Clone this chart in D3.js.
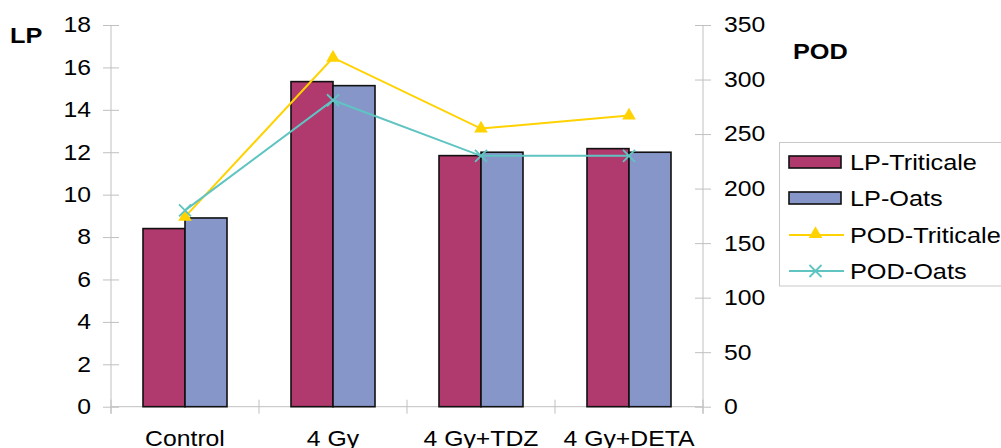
<!DOCTYPE html>
<html><head><meta charset="utf-8">
<script src="https://cdn.jsdelivr.net/npm/d3@7"></script>
<style>
body{margin:0;background:#fff;}
svg{display:block;font-family:"Liberation Sans",Arial,sans-serif;}
</style></head>
<body>
<svg id="c" width="1001" height="448"></svg>
<script>
const categories = ["Control", "4 Gy", "4 Gy+TDZ", "4 Gy+DETA"];
const lpTriticale = [8.4, 15.33, 11.84, 12.17];
const lpOats = [8.9, 15.14, 12.0, 12.0];
const podTriticale = [174, 320, 255, 267];
const podOats = [180, 281, 230, 230];
const lpTicks = [0, 2, 4, 6, 8, 10, 12, 14, 16, 18];
const podTicks = [0, 50, 100, 150, 200, 250, 300, 350];
const seriesNames = ["LP-Triticale", "LP-Oats", "POD-Triticale", "POD-Oats"];

const colors = {maroon:"#b0396d", blue:"#8696c9", yellow:"#ffd200", teal:"#5fc4c2"};
const SX = 1.15;

const svg = d3.select("#c");
const L = 111, R = 703, T = 25, B = 406.7;

const x = d3.scaleBand().domain(categories).range([L, R]).padding(0);
const xi = d3.scaleBand().domain(["t","o"]).range([0, x.bandwidth()]).paddingOuter(0.762).paddingInner(0);
const yL = d3.scaleLinear().domain([0, 18]).range([B, T]);
const yR = d3.scaleLinear().domain([0, 350]).range([B, T]);

function styleAxis(g){
  g.select(".domain").attr("stroke","#c0c0c0");
  g.selectAll(".tick line").attr("stroke","#c0c0c0");
}

// Left axis (crossing ticks)
const gl = svg.append("g").attr("transform",`translate(${L},0)`);
gl.call(d3.axisLeft(yL).tickValues(lpTicks).tickSize(8).tickPadding(12).tickSizeOuter(0));
gl.call(g=>{
  g.selectAll(".tick").append("line").attr("x1",0).attr("x2",8).attr("stroke","#c0c0c0");
  g.selectAll(".tick text").attr("font-size",21.5).attr("fill","#000")
   .attr("transform",`translate(-20,0) scale(${SX},1)`).attr("x",0);
  g.select(".domain").attr("d",`M0,${T}V${B+7}`);
  styleAxis(g);
});

// Right axis
const gr = svg.append("g").attr("transform",`translate(${R},0)`);
gr.call(d3.axisRight(yR).tickValues(podTicks).tickSize(8).tickPadding(12).tickSizeOuter(0));
gr.call(g=>{
  g.selectAll(".tick").append("line").attr("x1",0).attr("x2",-8).attr("stroke","#c0c0c0");
  g.selectAll(".tick text").attr("font-size",21.5).attr("fill","#000")
   .attr("transform",`translate(21,0) scale(${SX},1)`).attr("x",0);
  g.select(".domain").attr("d",`M0,${T}V${B+7}`);
  styleAxis(g);
});

// Bottom axis
const gb = svg.append("g").attr("transform",`translate(0,${B})`);
gb.call(d3.axisBottom(x).tickSize(0).tickPadding(25));
gb.call(g=>{
  g.select(".domain").attr("d",`M${L},0H${R}`).attr("stroke","#c0c0c0");
  g.selectAll(".tick text").attr("font-size",22.5).attr("fill","#000")
   .attr("y",0).attr("dy",0).attr("transform",`translate(0,39.5) scale(1.1,1)`);
  const bounds = categories.map(c=>x(c)).concat([R]);
  g.selectAll(".sep").data(bounds).join("line").attr("class","sep")
    .attr("x1",d=>d).attr("x2",d=>d).attr("y1",-7).attr("y2",7).attr("stroke","#c0c0c0");
});

// Bars
const barData = [];
categories.forEach((c,i)=>{
  barData.push({c, k:"t", v:lpTriticale[i], col:colors.maroon});
  barData.push({c, k:"o", v:lpOats[i], col:colors.blue});
});
svg.append("g").selectAll("rect").data(barData).join("rect")
  .attr("x",d=>x(d.c)+xi(d.k)).attr("width",xi.bandwidth())
  .attr("y",d=>yL(d.v)).attr("height",d=>yL(0)-yL(d.v))
  .attr("fill",d=>d.col).attr("stroke","#111").attr("stroke-width",1.6);

// Lines
const cx = c => x(c) + x.bandwidth()/2;
const line = d3.line().x(d=>cx(d.c)).y(d=>yR(d.v));
const triD = d3.symbol().type(d3.symbolTriangle).size(80)();
function xMark(g, px, py, col){
  g.append("path").attr("d",`M${px-6},${py-6}L${px+6},${py+6}M${px-6},${py+6}L${px+6},${py-6}`)
    .attr("stroke",col).attr("stroke-width",1.8).attr("fill","none");
}
const tri = categories.map((c,i)=>({c, v:podTriticale[i]}));
const oat = categories.map((c,i)=>({c, v:podOats[i]}));
svg.append("path").datum(tri).attr("d",line).attr("fill","none").attr("stroke",colors.yellow).attr("stroke-width",2);
svg.append("g").selectAll("path").data(tri).join("path")
  .attr("d",triD).attr("transform",d=>`translate(${cx(d.c)},${yR(d.v)})`).attr("fill",colors.yellow);
svg.append("path").datum(oat).attr("d",line).attr("fill","none").attr("stroke",colors.teal).attr("stroke-width",2);
const gm = svg.append("g");
oat.forEach(d=>xMark(gm, cx(d.c), yR(d.v), colors.teal));

// Axis titles
svg.append("text").attr("transform",`translate(10,42.7) scale(${SX},1)`).attr("font-size",22).attr("font-weight","bold").text("LP");
svg.append("text").attr("transform",`translate(793,59.3) scale(${SX},1)`).attr("font-size",22).attr("font-weight","bold").text("POD");

// Legend
const lg = svg.append("g");
lg.append("rect").attr("x",779.5).attr("y",142.5).attr("width",240).attr("height",143.5)
  .attr("fill","#fff").attr("stroke","#c8c8c8").attr("stroke-width",1);
const rowsY = [162, 198, 235, 271];
seriesNames.forEach((name,i)=>{
  const yy = rowsY[i];
  if(i<2){
    lg.append("rect").attr("x",789).attr("y",yy-6).attr("width",52).attr("height",12)
      .attr("fill",i===0?colors.maroon:colors.blue).attr("stroke","#111").attr("stroke-width",1.6);
  } else {
    const col = i===2?colors.yellow:colors.teal;
    lg.append("line").attr("x1",789).attr("x2",844).attr("y1",yy).attr("y2",yy).attr("stroke",col).attr("stroke-width",2);
    if(i===2) lg.append("path").attr("d",triD).attr("transform",`translate(815.5,${yy-1})`).attr("fill",col);
    else xMark(lg, 815.5, yy, col);
  }
  lg.append("text").attr("transform",`translate(850,${yy+8}) scale(${SX},1)`).attr("font-size",22).text(name);
});
</script>
</body></html>
